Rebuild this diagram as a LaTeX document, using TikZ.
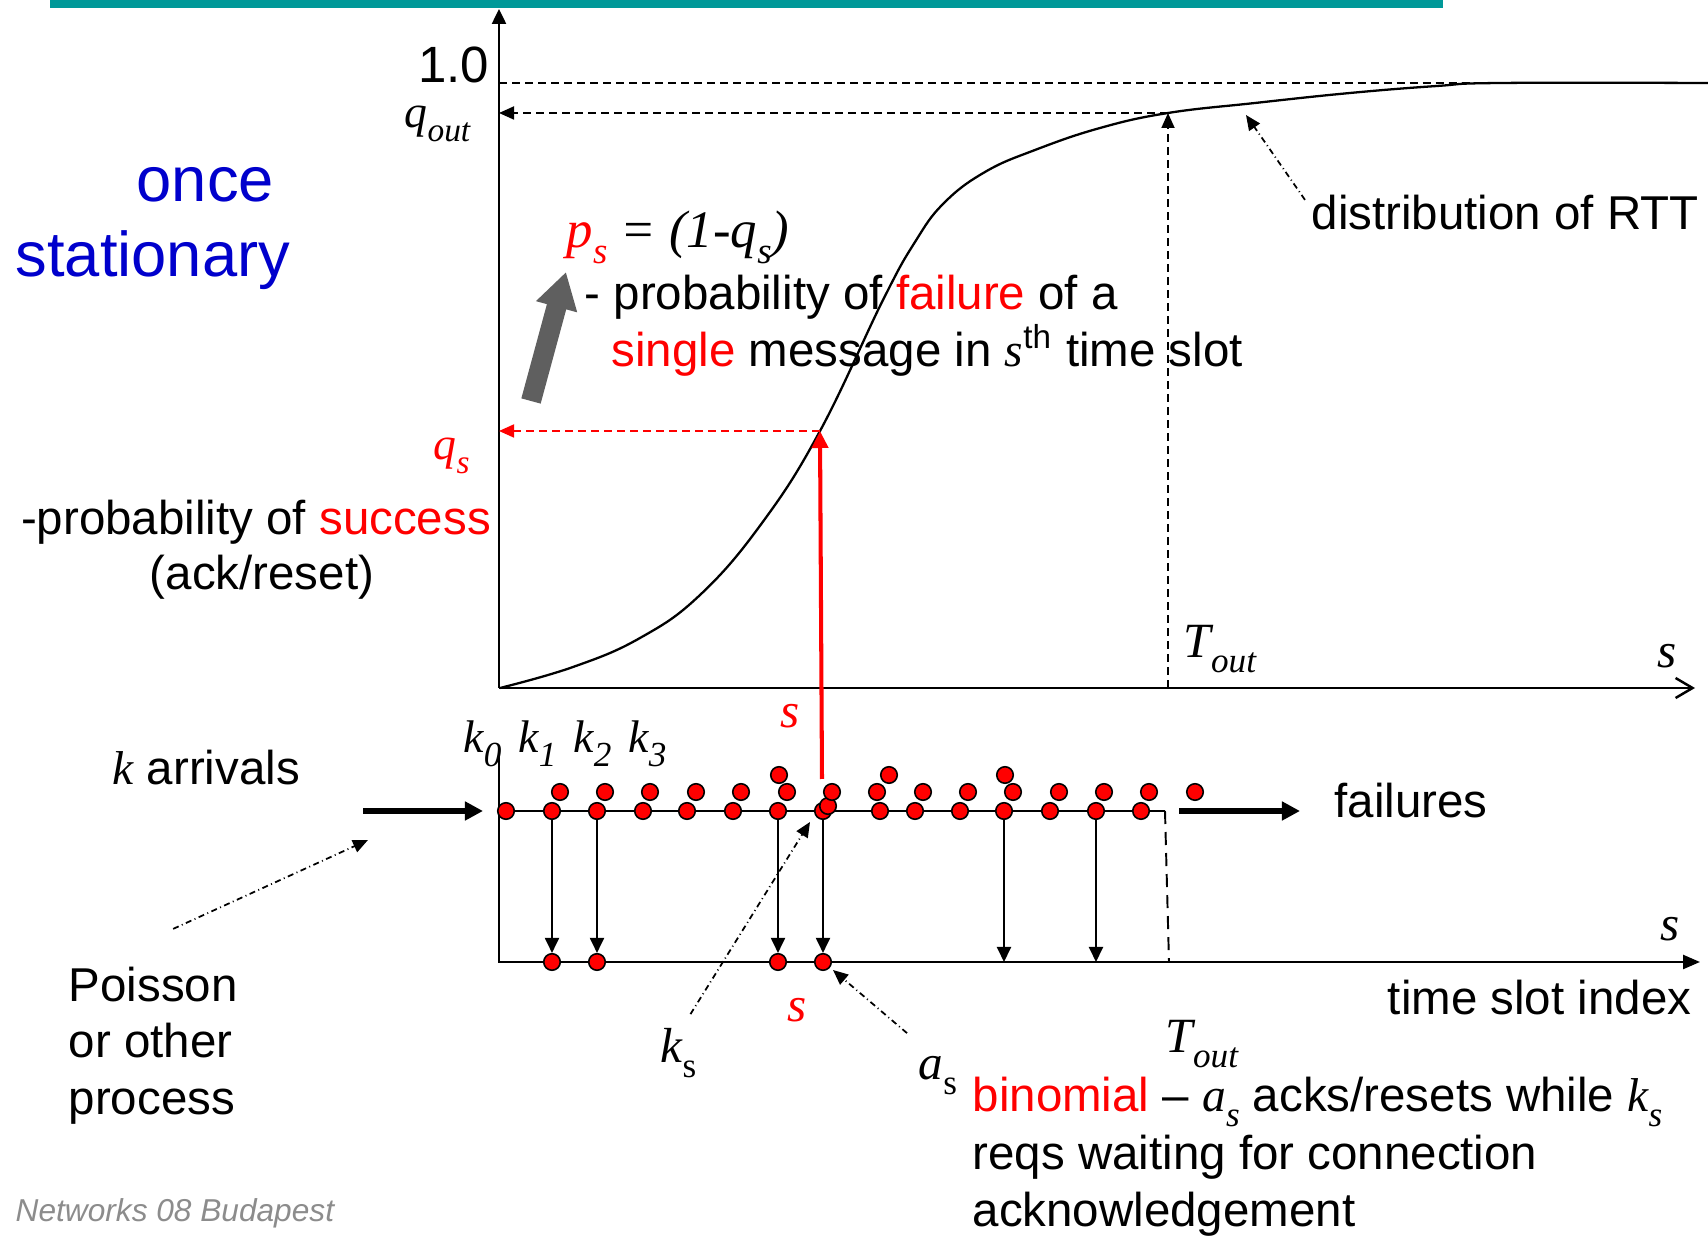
\documentclass[tikz,border=0pt]{standalone}
\usepackage{fontspec}
\setmainfont{Liberation Sans}
\newfontfamily\tms{Liberation Serif}
\usetikzlibrary{arrows.meta, calc}
\definecolor{barteal}{HTML}{009999}
\definecolor{onceblue}{HTML}{0000CC}
\definecolor{hotred}{HTML}{FF0000}
\definecolor{headgray}{HTML}{5F5F5F}
\definecolor{footgray}{HTML}{8C8C8C}
\newcommand{\mi}[1]{{\tms\itshape #1}}
\newcommand{\rd}[1]{\textcolor{hotred}{#1}}
\newcommand{\lo}[2]{\raisebox{-0.65ex}{\fontsize{#1}{#1}\selectfont #2}}
\tikzset{
  txt/.style={font=\fontsize{13.5}{16.2}\selectfont, inner sep=0pt},
  mlab/.style={font=\fontsize{14}{16}\selectfont\tms\itshape, inner sep=0pt},
  ball/.style={circle, draw=black, fill=hotred, line width=0.45pt,
    minimum size=0.165cm, inner sep=0pt},
  axisln/.style={line width=0.7pt},
  guideln/.style={line width=0.5pt, dash pattern=on 0.08cm off 0.05cm},
  guide/.style={guideln, -{Triangle[length=0.15cm,width=0.13cm]}},
  redup/.style={hotred, line width=1.15pt, -{Triangle[length=0.17cm,width=0.16cm]}},
  bigarr/.style={line width=1.45pt, -{Triangle[length=0.18cm,width=0.18cm]}},
  vlink/.style={line width=0.55pt, -{Triangle[length=0.15cm,width=0.14cm]}},
  dashdot/.style={line width=0.5pt, dash pattern=on 0.06cm off 0.035cm on 0.01cm off 0.035cm,
    -{Triangle[length=0.15cm,width=0.13cm]}}
}
\begin{document}
\begin{tikzpicture}[x=0.01cm,y=-0.01cm]
  \useasboundingbox (0,0) rectangle (1708,1237);
  \fill[barteal] (50,0) rectangle (1443,8);

  % upper plot: distribution of RTT
  \coordinate (O) at (499,688);
  \coordinate (ytop) at (499,9);
  \coordinate (xend) at (1695,688);
  \coordinate (onel) at (499,83);
  \coordinate (oner) at (1708,83);
  \coordinate (toutx) at (1168,688);
  \coordinate (toutc) at (1168,113);
  \coordinate (qoutax) at (499,113);
  \coordinate (qspt) at (820,431);
  \coordinate (qsax) at (499,431);
  \coordinate (sfoot) at (822,779);
  \coordinate (rttpt) at (1246,115);
  \draw[guideln] (onel) -- (oner);
  \draw[axisln,-{Triangle[length=0.15cm,width=0.14cm]}] (O) -- (ytop);
  \draw[axisln,-{Straight Barb[length=0.17cm,width=0.2cm]}] (O) -- (xend);
  \draw[line width=0.65pt] plot[smooth, tension=0.7] coordinates {
    (500,688) (573,667) (640,638) (700,595) (762,523) (820,431) (883,300)
    (915,242) (944,203) (985,172) (1035,150) (1100,128) (1168,113) (1255,103)
    (1350,93) (1437,86) (1500,83) (1708,83)};
  \draw[guide] (toutx) -- (toutc);
  \draw[guide] (toutc) -- (qoutax);
  \draw[guide, hotred] (qspt) -- (qsax);
  \draw[redup] (sfoot) -- (qspt);

  \node[txt, font=\fontsize{14.5}{17}\selectfont, anchor=base east] (oneval) at (490,83) {1.0};
  \node[mlab, font=\fontsize{13}{15}\selectfont\tms\itshape, anchor=base west] (qout) at (404,128) {q\lo{9.5}{out}};
  \node[mlab, font=\fontsize{13}{15}\selectfont\tms\itshape, text=hotred, anchor=base west] (qs) at (433,460) {q\lo{9.5}{s}};
  \node[mlab, text=hotred, anchor=base] (supper) at (790,728) {s};
  \node[mlab, anchor=base west] (toutu) at (1183,658) {T\lo{10}{out}};
  \node[mlab, anchor=base] (saxu) at (1667,668) {s};
  \node[txt, anchor=base west] (dist) at (1311,230) {distribution of RTT};
  \draw[dashdot] ($(dist.north west)+(-6,5)$) -- (rttpt);

  \node[txt, font=\fontsize{18}{21}\selectfont, text=onceblue, anchor=base west] (once) at (136,202) {once};
  \node[txt, font=\fontsize{18}{21}\selectfont, text=onceblue, anchor=base west] (statn) at (15,277) {stationary};
  \node[txt, anchor=base] (succ1) at (256,535) {-probability of \rd{success}};
  \node[txt, anchor=base] (succ2) at (262,590) {(ack/reset)};

  \node[mlab, font=\fontsize{15}{17}\selectfont\tms\itshape, anchor=base west] (psf) at (566,248)
    {\rd{p\lo{10.5}{s}} = (1-q\lo{10.5}{s})};
  \node[txt, anchor=base west] (fail1) at (584,310) {- probability of \rd{failure} of a};
  \node[txt, anchor=base west] (fail2) at (611,367) {\rd{single} message in \mi{s}\textsuperscript{th} time slot};
  % grey arrow pointing from q_s up to p_s
  \coordinate (gtail) at (531,401);
  \coordinate (ghead) at (566,272);
  \draw[headgray, line width=0.2cm, -{Triangle[length=0.36cm,width=0.4cm]}] (gtail) -- (ghead);

  % lower part: slots and arrivals
  \coordinate (lowtop) at (499,750);
  \coordinate (lowO) at (499,962);
  \coordinate (lowend) at (1700,962);
  \coordinate (rowL) at (499,811);
  \coordinate (rowR) at (1165,811);
  \coordinate (cutB) at (1169,962);
  \draw[axisln,-{Triangle[length=0.17cm,width=0.14cm]}] (lowtop) -- (lowO) -- (lowend);
  \draw[axisln] (rowL) -- (rowR);
  \draw[line width=0.55pt, dash pattern=on 0.13cm off 0.08cm] (rowR) -- (cutB);

  \coordinate (inA) at (363,811);
  \coordinate (inB) at (483,811);
  \coordinate (outA) at (1179,811);
  \coordinate (outB) at (1300,811);
  \draw[bigarr] (inA) -- (inB);
  \draw[bigarr] (outA) -- (outB);

  \coordinate (e1) at (1004,962);
  \coordinate (e2) at (1096,962);
  \foreach \x [count=\i] in {506,552,597,643,687,733,778,823,880,915,960,1004,1050,1096,1141}
    \node[ball] (r\i) at (\x,811) {};
  \node[ball] (rx) at (828,806) {};
  \foreach \x [count=\i] in {560,605,650,696,741,787,832,877,923,968,1013,1059,1104,1149,1195}
    \node[ball] (u\i) at (\x,792) {};
  \foreach \x [count=\i] in {779,889,1005}
    \node[ball] (t\i) at (\x,775) {};
  \foreach \x [count=\i] in {552,597,778,823}
    \node[ball] (b\i) at (\x,962) {};
  \draw[vlink] (r2) -- (b1);
  \draw[vlink] (r3) -- (b2);
  \draw[vlink] (r7) -- (b3);
  \draw[vlink] (r8) -- (b4);
  \draw[vlink] (r12) -- (e1);
  \draw[vlink] (r14) -- (e2);

  \foreach \n/\x in {0/463,1/518,2/573,3/628}
    \node[mlab, font=\fontsize{13}{15}\selectfont\tms\itshape, anchor=base west] (k\n) at (\x,753) {k\lo{10}{\n}};
  \node[txt, anchor=base west] (karr) at (112,785) {\mi{k} arrivals};
  \node[txt, anchor=base west] (failn) at (1334,818) {failures};
  \node[txt, anchor=base west] (pois1) at (68,1002) {Poisson};
  \node[txt, anchor=base west] (pois2) at (68,1058) {or other};
  \node[txt, anchor=base west] (pois3) at (68,1115) {process};
  \coordinate (poistip) at (368,840);
  \draw[dashdot] ($(pois1.north)+(20,-38)$) -- (poistip);
  \node[txt, font=\fontsize{9}{11}\selectfont\itshape, text=footgray, anchor=base west] (foot) at (15,1222) {Networks 08 Budapest};

  \node[mlab, anchor=base] (saxl) at (1670,941) {s};
  \node[txt, anchor=base east] (tsi) at (1692,1015) {time slot index};
  \node[mlab, text=hotred, anchor=base] (slow) at (797,1022) {s};
  \node[mlab, anchor=base west] (ks) at (660,1063) {k\lo{10}{\upshape s}};
  \node[mlab, anchor=base west] (as) at (918,1080) {a\lo{10}{\upshape s}};
  \coordinate (kstip) at (810,822);
  \coordinate (astip) at (833,970);
  \draw[dashdot] ($(ks.north)+(12,-14)$) -- (kstip);
  \draw[dashdot] ($(as.north west)+(-11,-23)$) -- (astip);
  \node[mlab, anchor=base west] (toutl) at (1165,1053) {T\lo{10}{out}};
  \node[txt, anchor=base west] (bin1) at (972,1112) {\rd{binomial} -- \mi{a\lo{10}{s}} acks/resets while \mi{k\lo{10}{s}}};
  \node[txt, anchor=base west] (bin2) at (972,1170) {reqs waiting for connection};
  \node[txt, anchor=base west] (bin3) at (972,1227) {acknowledgement};
\end{tikzpicture}
\end{document}
